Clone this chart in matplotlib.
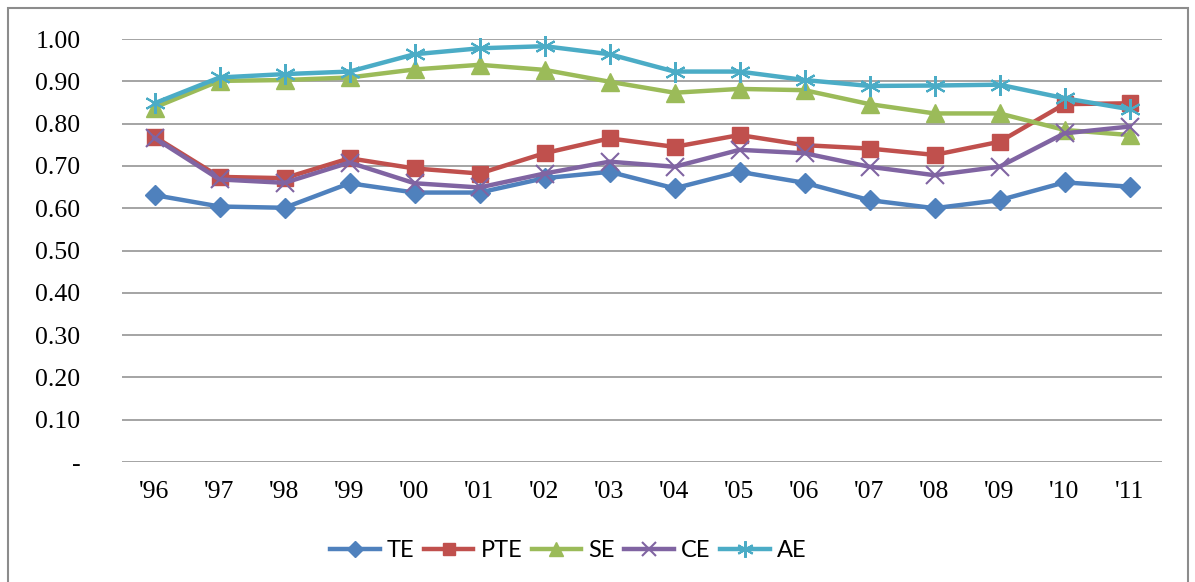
import numpy as np
import matplotlib.pyplot as plt
from matplotlib.patches import Rectangle

years = ["'96", "'97", "'98", "'99", "'00", "'01", "'02", "'03",
         "'04", "'05", "'06", "'07", "'08", "'09", "'10", "'11"]

te = [0.631, 0.604, 0.601, 0.659, 0.637, 0.637, 0.671, 0.686,
      0.647, 0.686, 0.660, 0.619, 0.600, 0.619, 0.661, 0.651]
pte = [0.769, 0.674, 0.671, 0.718, 0.694, 0.682, 0.730, 0.765,
       0.745, 0.773, 0.749, 0.741, 0.726, 0.757, 0.846, 0.848]
se = [0.838, 0.901, 0.903, 0.909, 0.928, 0.939, 0.927, 0.899,
      0.873, 0.882, 0.879, 0.846, 0.824, 0.824, 0.785, 0.773]
ce = [0.766, 0.668, 0.660, 0.708, 0.659, 0.649, 0.682, 0.710,
      0.698, 0.738, 0.730, 0.698, 0.678, 0.698, 0.777, 0.793]
ae = [0.848, 0.909, 0.917, 0.923, 0.964, 0.978, 0.983, 0.964,
      0.923, 0.923, 0.903, 0.889, 0.890, 0.892, 0.860, 0.834]

yticks = np.arange(0, 1.01, 0.1)
ylabels = ['-'] + ['%.2f' % v for v in yticks[1:]]

fig = plt.figure(figsize=(11.95, 5.82), dpi=100)
# outer chart border
fig.patches.append(Rectangle((8/1195, -0.05), 1180/1195, 1 - 8/582 + 0.05,
                             transform=fig.transFigure, fill=False,
                             edgecolor='#8c8c8c', linewidth=1.5))

ax = fig.add_axes([122/1195, 1 - 462/582, 1040/1195, 423/582])
x = np.arange(len(years))

series = [
    ('TE', te, '#4F81BD', 'D', 10, 1),
    ('PTE', pte, '#C0504D', 's', 11, 1),
    ('SE', se, '#9BBB59', '^', 13, 1),
    ('CE', ce, '#8064A2', 'x', 13, 1.5),
    ('AE', ae, '#4BACC6', (6, 2, 0), 15, 1.5),
]
for name, vals, col, mk, ms, mew in series:
    ax.plot(x, vals, color=col, lw=3.2, marker=mk, ms=ms, mew=mew,
            mec=col, mfc=col, label=name, clip_on=False, zorder=3)

ax.set_xlim(-0.5, len(years) - 0.5)
ax.set_ylim(0, 1.0)
ax.set_yticks(yticks)
ax.set_yticklabels(ylabels)
ax.set_xticks(x)
ax.set_xticklabels(years)
ax.grid(axis='y', color='#8c8c8c', lw=1.1)
ax.set_axisbelow(True)
for s in ax.spines.values():
    s.set_visible(False)
ax.tick_params(length=0, labelsize=18.5)
ax.tick_params(axis='y', pad=30)
ax.tick_params(axis='x', pad=14)
for lab in ax.get_xticklabels() + ax.get_yticklabels():
    lab.set_family('Liberation Serif')

leg = ax.legend(loc='center', bbox_to_anchor=(0.429, -0.21),
                ncol=5, frameon=False,
                prop={'family': ['Liberation Sans Narrow', 'Lato'], 'size': 17},
                handlelength=2.1, handletextpad=0.3, columnspacing=0.4,
                markerscale=0.8)

plt.savefig('out.png', dpi=100)
